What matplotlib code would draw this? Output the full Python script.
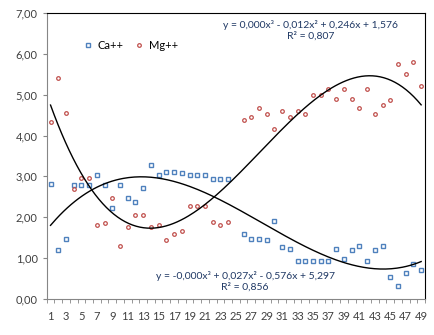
import numpy as np
import matplotlib
matplotlib.use('Agg')
import matplotlib.pyplot as plt
from matplotlib.ticker import FixedLocator, FuncFormatter

BLUE  = '#4F81BD'
RED   = '#C0504D'
AXIS  = '#868686'
TEXT  = '#404040'
EQ    = '#1F3864'

plt.rcParams.update({
    'font.family': ['Lato', 'DejaVu Sans'],
    'font.size':   8,
})

# sample index 1..49 (25 has no values)
samples = np.arange(1, 50)

ca = [2.81, 1.21, 1.47, 2.80, 2.80, 2.80, 3.03, 2.80, 2.23, 2.80,
      2.46, 2.38, 2.72, 3.27, 3.03, 3.11, 3.11, 3.09, 3.03, 3.03,
      3.03, 2.94, 2.94, 2.94, np.nan, 1.59, 1.47, 1.47, 1.45, 1.92,
      1.28, 1.22, 0.93, 0.93, 0.93, 0.93, 0.93, 1.22, 0.98, 1.20,
      1.30, 0.93, 1.20, 1.30, 0.54, 0.31, 0.64, 0.86, 0.71]

mg = [4.34, 5.42, 4.56, 2.69, 2.95, 2.95, 1.82, 1.86, 2.46, 1.30,
      1.75, 2.05, 2.05, 1.75, 1.81, 1.45, 1.59, 1.66, 2.27, 2.27,
      2.27, 1.89, 1.82, 1.89, np.nan, 4.38, 4.45, 4.68, 4.52, 4.16,
      4.61, 4.45, 4.61, 4.53, 4.99, 4.99, 5.13, 4.90, 5.13, 4.90,
      4.68, 5.13, 4.53, 4.76, 4.87, 5.74, 5.51, 5.80, 5.21]

y_ticks = [0, 1, 2, 3, 4, 5, 6, 7]

mg_eq = 'y = 0,000x³ - 0,012x² + 0,246x + 1,576\nR² = 0,807'
ca_eq = 'y = -0,000x³ + 0,027x² - 0,576x + 5,297\nR² = 0,856'


def trend(x, y, deg=3):
    x = np.asarray(x, float)
    y = np.asarray(y, float)
    ok = ~np.isnan(y)
    coef = np.polyfit(x[ok], y[ok], deg)
    xs = np.linspace(x.min(), x.max(), 200)
    return xs, np.polyval(coef, xs)


def main():
    fig = plt.figure(figsize=(4.35, 3.35), dpi=100, facecolor='white')
    ax = fig.add_axes([0.1073, 0.1075, 0.8697, 0.8537])

    ax.plot(samples, ca, ls='none', marker='s', ms=3.4, mfc='none',
            mec=BLUE, mew=1.0, label='Ca++')
    ax.plot(samples, mg, ls='none', marker='o', ms=2.6, mfc='none',
            mec=RED, mew=0.9, label='Mg++')

    for series in (ca, mg):
        xs, ys = trend(samples, series)
        ax.plot(xs, ys, color='black', lw=1.0)

    ax.text(34.7, 6.58, mg_eq, ha='center', va='center', fontsize=7.5,
            color=EQ, linespacing=1.25)
    ax.text(26.2, 0.43, ca_eq, ha='center', va='center', fontsize=7.5,
            color=EQ, linespacing=1.25)

    ax.set_xlim(0.5, 49.5)
    ax.set_ylim(0, 7)
    ax.xaxis.set_major_locator(FixedLocator(samples[::2]))
    ax.xaxis.set_minor_locator(FixedLocator(np.arange(0.5, 50, 1)))
    ax.tick_params(axis='x', which='major', length=0, pad=9, labelsize=8,
                   labelcolor=TEXT)
    ax.tick_params(axis='x', which='minor', length=3, color=AXIS)
    ax.set_yticks(y_ticks)
    ax.yaxis.set_major_formatter(FuncFormatter(lambda v, p: f'{v:.2f}'.replace('.', ',')))
    ax.tick_params(axis='y', length=3, color=AXIS, labelsize=8, labelcolor=TEXT)

    for side in ('left', 'bottom'):
        ax.spines[side].set_color(AXIS)
    for side in ('top', 'right'):
        ax.spines[side].set_color('black')

    ax.legend(loc='center left', bbox_to_anchor=(0.07, 0.886), ncol=2,
              frameon=False, handlelength=0.8, handletextpad=0.5,
              columnspacing=1.0, fontsize=8)

    fig.savefig('out.png', dpi=100, facecolor='white')
    plt.close(fig)


if __name__ == '__main__':
    main()
